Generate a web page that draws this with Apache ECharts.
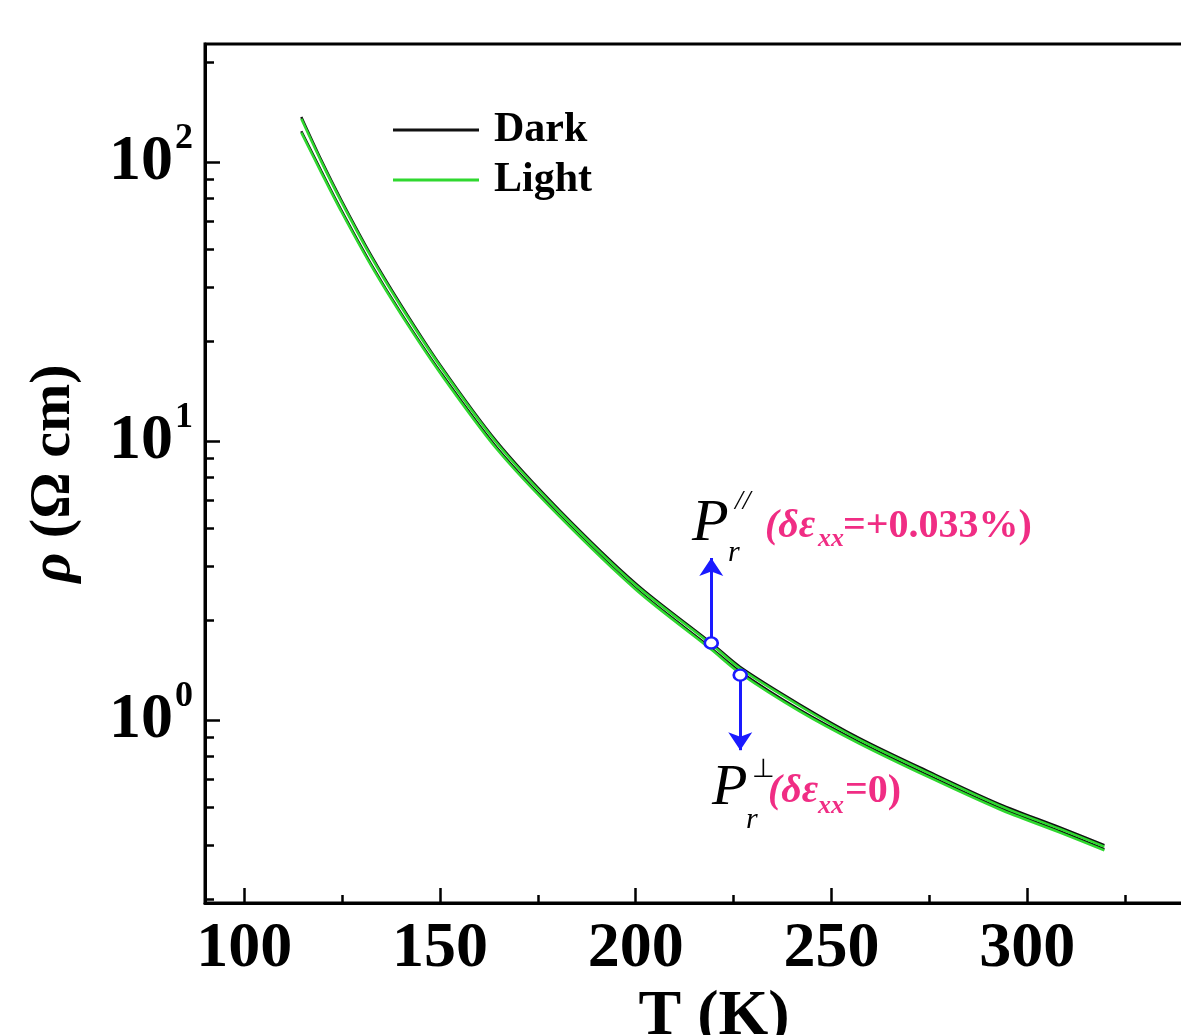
<!DOCTYPE html>
<html><head><meta charset="utf-8">
<script src="https://cdn.jsdelivr.net/npm/echarts@6/dist/echarts.min.js"></script>
<style>html,body{margin:0;padding:0;background:#fff;overflow:hidden}#c{width:1181px;height:1035px}</style>
</head><body><div id="c"></div>
<script>
// ---- data ----
const temps      = [114.6, 119.7, 124.8, 132.4, 140.1, 150.1, 164.4, 180.5, 200.2, 219.3, 226.7, 241.8, 257.1, 275.0, 292.9, 308.2, 319.7];
const darkUpper  = [145, 101.6, 73.1, 46.4, 30.7, 18.7, 10.0, 5.66, 3.07, 1.89, 1.55, 1.14, 0.862, 0.652, 0.500, 0.413, 0.356];
const lightUpper = [143, 100.4, 72.2, 45.8, 30.3, 18.5, 9.88, 5.59, 3.03, 1.87, 1.53, 1.126, 0.851, 0.644, 0.494, 0.408, 0.352];
const darkLower  = [129, 92.8, 67.3, 43.1, 28.7, 17.7, 9.52, 5.43, 2.95, 1.81, 1.49, 1.09, 0.834, 0.631, 0.485, 0.401, 0.345];
const lightLower = [127.5, 91.7, 66.5, 42.6, 28.4, 17.5, 9.41, 5.37, 2.92, 1.79, 1.47, 1.077, 0.824, 0.623, 0.479, 0.396, 0.341];
const xMajorTicks = [100, 150, 200, 250, 300];
const xMinorTicks = [125, 175, 225, 275, 325];
const yMajorTicks = [1, 10, 100];
const yMinorTicks = [0.2286, 0.3571, 0.4857, 0.6143, 0.7429, 0.8714,
                     2.286, 3.571, 4.857, 6.143, 7.429, 8.714,
                     22.86, 35.71, 48.57, 61.43, 74.29, 87.14, 228.6];
const markerT   = [219.3, 226.7];
const markerRho = [1.89, 1.45];
const arrowTipRho = [3.81, 0.78];

const zip = (xs, ys) => xs.map((x, i) => [x, ys[i]]);
const SERIF = '"Liberation Serif","Times New Roman",serif';
const BLUE = '#1a1aff', PINK = '#f02d84', GREEN = '#2fd82f';
const X0 = 90, X1 = 350, Y0 = 0.221, Y1 = 265;

const chart = echarts.init(document.getElementById('c'));
const lineSeries = (name, data, color, width, z) => ({
  name, type: 'line', data: zip(temps, data), symbol: 'none', smooth: 0.3,
  lineStyle: { color, width }, itemStyle: { color }, z, xAxisIndex: 0, yAxisIndex: 0, silent: true
});
const option = {
  animation: false,
  backgroundColor: '#fff',
  grid: { left: 205, top: 44, width: 1018, height: 859, outerBoundsMode: 'none', containLabel: false,
          show: true, borderColor: '#000', borderWidth: 3, backgroundColor: 'transparent' },
  legend: {
    data: ['Dark', 'Light'], orient: 'vertical', left: 388, top: 104, itemWidth: 86, itemHeight: 3, itemGap: 8,
    icon: 'rect',
    textStyle: { fontFamily: SERIF, fontWeight: 'bold', fontSize: 42, color: '#000', padding: [0, 0, 0, 10] }
  },
  xAxis: [{
    type: 'value', min: X0, max: X1, position: 'bottom',
    axisLine: { lineStyle: { color: '#000', width: 3 } },
    axisTick: { inside: true, length: 15, customValues: xMajorTicks, lineStyle: { color: '#000', width: 2.5 } },
    axisLabel: { customValues: xMajorTicks, margin: 14, fontFamily: SERIF, fontWeight: 'bold', fontSize: 64, color: '#000' },
    splitLine: { show: false },
    name: 'T (K)', nameLocation: 'middle', nameGap: 80,
    nameTextStyle: { fontFamily: SERIF, fontWeight: 'bold', fontSize: 64, color: '#000' }
  }, {
    type: 'value', min: X0, max: X1, position: 'bottom', gridIndex: 0,
    axisLine: { show: false },
    axisTick: { inside: true, length: 8, customValues: xMinorTicks, lineStyle: { color: '#000', width: 2.5 } },
    axisLabel: { show: false }, splitLine: { show: false }
  }],
  yAxis: [{
    type: 'log', logBase: 10, min: Y0, max: Y1, position: 'left',
    axisLine: { show: true, lineStyle: { color: '#000', width: 3 } },
    axisTick: { show: true, inside: true, length: 15, customValues: yMajorTicks, lineStyle: { color: '#000', width: 2.5 } },
    axisLabel: {
      customValues: yMajorTicks, margin: 12,
      formatter: v => '{b|10}{s|' + Math.round(Math.log10(v)) + '}',
      rich: {
        b: { fontFamily: SERIF, fontWeight: 'bold', fontSize: 64, color: '#000' },
        s: { fontFamily: SERIF, fontWeight: 'bold', fontSize: 36, color: '#000', padding: [0, 0, 46, 2] }
      }
    },
    splitLine: { show: false },
    name: '{i|ρ} (Ω cm)', nameLocation: 'middle', nameGap: 122,
    nameTextStyle: {
      fontFamily: SERIF, fontWeight: 'bold', fontSize: 58, color: '#000',
      rich: { i: { fontFamily: SERIF, fontStyle: 'italic', fontWeight: 'bold', fontSize: 58, color: '#000' } }
    }
  }, {
    type: 'log', logBase: 10, min: Y0, max: Y1, position: 'left',
    axisLine: { show: false },
    axisTick: { show: true, inside: true, length: 9, customValues: yMinorTicks, lineStyle: { color: '#000', width: 2.5 } },
    axisLabel: { show: false }, splitLine: { show: false }
  }],
  series: [
    lineSeries('Dark', darkUpper, '#111', 2.5, 2),
    lineSeries('Light', lightUpper, GREEN, 2.5, 3),
    lineSeries('Dark', darkLower, '#111', 2.5, 2),
    lineSeries('Light', lightLower, GREEN, 2.5, 3),
    {
      name: 'markers', type: 'scatter', z: 6, silent: true,
      data: zip(markerT, markerRho),
      symbol: 'circle', symbolSize: [13, 11],
      itemStyle: { color: '#fff', borderColor: BLUE, borderWidth: 2.5, opacity: 1 },
      markLine: {
        silent: true, symbol: ['none', 'arrow'], symbolSize: 18,
        lineStyle: { color: BLUE, width: 3, type: 'solid' }, itemStyle: { color: BLUE }, label: { show: false },
        data: markerT.map((t, i) => [{ coord: [t, markerRho[i]] }, { coord: [t, arrowTipRho[i]] }])
      }
    }
  ],
  graphic: [
    { type: 'text', x: 692, y: 524, style: { text: 'P', font: 'italic 60px ' + SERIF, fill: '#000', verticalAlign: 'middle' } },
    { type: 'text', x: 735, y: 502, style: { text: '//', font: 'italic 28px ' + SERIF, fill: '#000', verticalAlign: 'middle' } },
    { type: 'text', x: 728, y: 553, style: { text: 'r', font: 'italic 30px ' + SERIF, fill: '#000', verticalAlign: 'middle' } },
    { type: 'text', x: 765, y: 527, style: { text: '(δε', font: 'italic bold 40px ' + SERIF, fill: PINK, verticalAlign: 'middle' } },
    { type: 'text', x: 818, y: 539, style: { text: 'xx', font: 'italic bold 26px ' + SERIF, fill: PINK, verticalAlign: 'middle' } },
    { type: 'text', x: 843, y: 527, style: { text: '=+0.033%)', font: 'bold 40px ' + SERIF, fill: PINK, verticalAlign: 'middle' } },

    { type: 'text', x: 712, y: 789, style: { text: 'P', font: 'italic 58px ' + SERIF, fill: '#000', verticalAlign: 'middle' } },
    { type: 'text', x: 752, y: 770, style: { text: '⊥', font: '26px ' + SERIF, fill: '#000', verticalAlign: 'middle' } },
    { type: 'text', x: 746, y: 820, style: { text: 'r', font: 'italic 30px ' + SERIF, fill: '#000', verticalAlign: 'middle' } },
    { type: 'text', x: 768, y: 792, style: { text: '(δε', font: 'italic bold 40px ' + SERIF, fill: PINK, verticalAlign: 'middle' } },
    { type: 'text', x: 818, y: 806, style: { text: 'xx', font: 'italic bold 26px ' + SERIF, fill: PINK, verticalAlign: 'middle' } },
    { type: 'text', x: 845, y: 792, style: { text: '=0)', font: 'bold 40px ' + SERIF, fill: PINK, verticalAlign: 'middle' } }
  ]
};
chart.setOption(option);
</script></body></html>
